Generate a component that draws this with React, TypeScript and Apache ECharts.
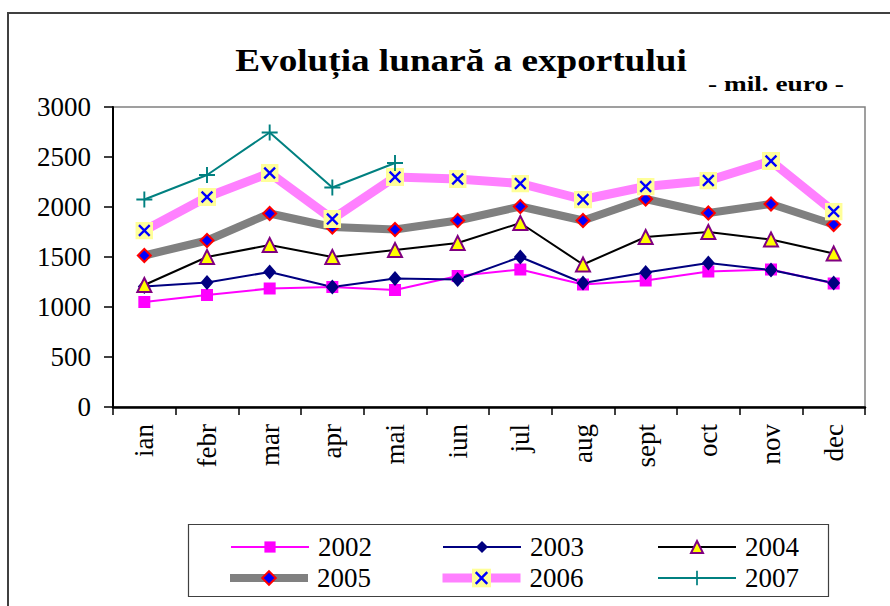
import React, { useEffect, useRef } from "react";
import * as echarts from "echarts";

const months = ["ian", "febr", "mar", "apr", "mai", "iun", "jul", "aug", "sept", "oct", "nov", "dec"];
const yearNames = ["2002", "2003", "2004", "2005", "2006", "2007"];
const v2002 = [1050, 1120, 1185, 1200, 1170, 1310, 1375, 1225, 1265, 1355, 1375, 1235];
const v2003 = [1205, 1245, 1350, 1200, 1285, 1275, 1500, 1240, 1345, 1440, 1370, 1240];
const v2004 = [1220, 1500, 1620, 1500, 1570, 1640, 1840, 1425, 1700, 1750, 1675, 1535];
const v2005 = [1515, 1665, 1935, 1800, 1775, 1865, 2005, 1865, 2080, 1940, 2030, 1825];
const v2006 = [1765, 2100, 2340, 1880, 2300, 2280, 2235, 2075, 2205, 2265, 2460, 1955];
const v2007 = [2075, 2320, 2745, 2195, 2440];

const FONT = "Liberation Serif";

const xBoxSvg =
  "<svg xmlns='http://www.w3.org/2000/svg' width='20' height='20'><rect width='20' height='20' fill='#FFFF99'/><path d='M4,4L16,16M16,4L4,16' stroke='#0000FF' stroke-width='2.6' fill='none'/></svg>";
const xBoxSymbol = "image://data:image/svg+xml;charset=utf-8," + encodeURIComponent(xBoxSvg);
const plusSymbol = "path://M4.4,0H5.6V4.4H10V5.6H5.6V10H4.4V5.6H0V4.4H4.4Z";

const legendLineWidths = [2, 2, 2, 8, 9, 2];
const legendItemHeights = [14, 15, 15, 17, 24, 18];
const legendShift = [0, 0, 0, -4, -4, 0];

export default function App() {
  const ref = useRef<HTMLDivElement>(null);
  useEffect(() => {
    if (!ref.current) return;
    const chart = echarts.init(ref.current, null, { renderer: "svg" });
    const legendCols = [230, 442, 657];
    const legendRowCenters = [547, 578];
    const legends = yearNames.map((name, i) => ({
      data: [name],
      left: legendCols[i % 3] + legendShift[i],
      top: legendRowCenters[Math.floor(i / 3)] - 14,
      itemWidth: 78,
      itemHeight: legendItemHeights[i],
      itemGap: 0,
      padding: 0,
      lineStyle: { width: legendLineWidths[i] },
      textStyle: { fontSize: 27, fontFamily: FONT, color: "#000", padding: [0, 0, 0, 4], height: 28, lineHeight: 28 },
    }));
    chart.setOption({
      animation: false,
      backgroundColor: "#fff",
      textStyle: { fontFamily: FONT },
      grid: {
        left: 113,
        right: 25,
        top: 107,
        bottom: 199,
        show: true,
        borderColor: "#808080",
        borderWidth: 1.5,
        containLabel: false,
      },
      legend: legends,
      graphic: [
        {
          type: "rect",
          z: 0,
          shape: { x: 8, y: 13, width: 920, height: 700 },
          style: { fill: "none", stroke: "#404040", lineWidth: 2 },
        },
        {
          type: "rect",
          z: 0,
          shape: { x: 188.5, y: 524.5, width: 640, height: 72 },
          style: { fill: "none", stroke: "#404040", lineWidth: 1.2 },
        },
        {
          type: "text",
          x: 461,
          y: 60,
          scaleX: 1.2,
          style: {
            text: "Evoluția lunară a exportului",
            fontFamily: FONT,
            fontWeight: "bold",
            fontSize: 31,
            fill: "#000",
            textAlign: "center",
            textVerticalAlign: "middle",
          },
        },
        {
          type: "text",
          x: 776,
          y: 84,
          scaleX: 1.3,
          style: {
            text: "- mil. euro -",
            fontFamily: FONT,
            fontWeight: "bold",
            fontSize: 21,
            fill: "#000",
            textAlign: "center",
            textVerticalAlign: "middle",
          },
        },
      ],
      xAxis: {
        type: "category",
        data: months,
        boundaryGap: true,
        axisLine: { show: true, lineStyle: { color: "#000", width: 2.5 } },
        axisTick: { show: true, length: 8, interval: 0, lineStyle: { color: "#000", width: 1.5 } },
        axisLabel: {
          rotate: 90,
          interval: 0,
          margin: 17,
          fontSize: 27,
          fontFamily: FONT,
          color: "#000",
        },
        splitLine: { show: false },
      },
      yAxis: {
        type: "value",
        min: 0,
        max: 3000,
        interval: 500,
        axisLine: { show: true, lineStyle: { color: "#000", width: 2 } },
        axisTick: { show: true, length: 9, lineStyle: { color: "#000", width: 1.5 } },
        axisLabel: {
          margin: 22,
          fontSize: 27,
          fontFamily: FONT,
          color: "#000",
          formatter: (v: number) => String(v),
        },
        splitLine: { show: false },
      },
      series: [
        {
          name: "2002",
          type: "line",
          data: v2002,
          symbol: "rect",
          symbolSize: 12,
          itemStyle: { color: "#FF00FF" },
          lineStyle: { color: "#FF00FF", width: 2 },
        },
        {
          name: "2003",
          type: "line",
          data: v2003,
          symbol: "diamond",
          symbolSize: [13, 15],
          itemStyle: { color: "#000080" },
          lineStyle: { color: "#000080", width: 2 },
        },
        {
          name: "2004",
          type: "line",
          data: v2004,
          symbol: "triangle",
          symbolSize: 14,
          itemStyle: { color: "#FFFF00", borderColor: "#800080", borderWidth: 2 },
          lineStyle: { color: "#000", width: 2 },
        },
        {
          name: "2005",
          type: "line",
          data: v2005,
          symbol: "diamond",
          symbolSize: 13,
          itemStyle: { color: "#0000FF", borderColor: "#FF0000", borderWidth: 2 },
          lineStyle: { color: "#808080", width: 8 },
        },
        {
          name: "2006",
          type: "line",
          data: v2006,
          symbol: xBoxSymbol,
          symbolSize: 18,
          itemStyle: { color: "#FF80FF" },
          lineStyle: { color: "#FF80FF", width: 9 },
        },
        {
          name: "2007",
          type: "line",
          data: v2007,
          symbol: plusSymbol,
          symbolSize: 16,
          itemStyle: { color: "#008080" },
          lineStyle: { color: "#008080", width: 2 },
        },
      ],
    });
    return () => chart.dispose();
  }, []);
  return (
    <div
      ref={ref}
      style={{ position: "fixed", left: 0, top: 0, width: 890, height: 606 }}
    />
  );
}
